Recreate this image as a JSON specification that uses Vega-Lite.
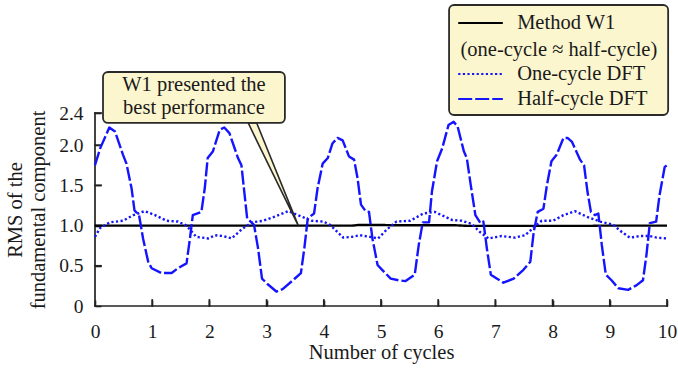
{
  "$schema": "https://vega.github.io/schema/vega-lite/v6.json",
  "width": 572,
  "height": 193,
  "autosize": {"type": "none"},
  "padding": {"left": 95, "top": 113, "right": 11, "bottom": 63},
  "background": "#ffffff",
  "config": {
    "view": {"stroke": null},
    "font": "Liberation Serif"
  },
  "datasets": {
    "series": [
      {"cycle": 0, "rms": 1.0, "method": "Method W1"},
      {"cycle": 1, "rms": 1.0, "method": "Method W1"},
      {"cycle": 2, "rms": 1.0, "method": "Method W1"},
      {"cycle": 3, "rms": 1.0, "method": "Method W1"},
      {"cycle": 4, "rms": 1.0, "method": "Method W1"},
      {"cycle": 4.5, "rms": 1.0, "method": "Method W1"},
      {"cycle": 4.62, "rms": 1.008, "method": "Method W1"},
      {"cycle": 5.0, "rms": 1.008, "method": "Method W1"},
      {"cycle": 5.2, "rms": 1.004, "method": "Method W1"},
      {"cycle": 6.3, "rms": 1.004, "method": "Method W1"},
      {"cycle": 6.5, "rms": 0.997, "method": "Method W1"},
      {"cycle": 8.7, "rms": 0.997, "method": "Method W1"},
      {"cycle": 8.85, "rms": 1.0, "method": "Method W1"},
      {"cycle": 10, "rms": 1.0, "method": "Method W1"},

      {"cycle": 0, "rms": 0.86, "method": "One-cycle DFT"},
      {"cycle": 0.09, "rms": 0.97, "method": "One-cycle DFT"},
      {"cycle": 0.26, "rms": 1.04, "method": "One-cycle DFT"},
      {"cycle": 0.49, "rms": 1.06, "method": "One-cycle DFT"},
      {"cycle": 0.67, "rms": 1.13, "method": "One-cycle DFT"},
      {"cycle": 0.87, "rms": 1.18, "method": "One-cycle DFT"},
      {"cycle": 1.05, "rms": 1.13, "method": "One-cycle DFT"},
      {"cycle": 1.25, "rms": 1.06, "method": "One-cycle DFT"},
      {"cycle": 1.45, "rms": 1.05, "method": "One-cycle DFT"},
      {"cycle": 1.6, "rms": 1.0, "method": "One-cycle DFT"},
      {"cycle": 1.77, "rms": 0.86, "method": "One-cycle DFT"},
      {"cycle": 1.98, "rms": 0.84, "method": "One-cycle DFT"},
      {"cycle": 2.1, "rms": 0.88, "method": "One-cycle DFT"},
      {"cycle": 2.24, "rms": 0.87, "method": "One-cycle DFT"},
      {"cycle": 2.39, "rms": 0.84, "method": "One-cycle DFT"},
      {"cycle": 2.56, "rms": 0.95, "method": "One-cycle DFT"},
      {"cycle": 2.74, "rms": 1.04, "method": "One-cycle DFT"},
      {"cycle": 2.94, "rms": 1.06, "method": "One-cycle DFT"},
      {"cycle": 3.14, "rms": 1.11, "method": "One-cycle DFT"},
      {"cycle": 3.38, "rms": 1.18, "method": "One-cycle DFT"},
      {"cycle": 3.55, "rms": 1.13, "method": "One-cycle DFT"},
      {"cycle": 3.79, "rms": 1.06, "method": "One-cycle DFT"},
      {"cycle": 3.99, "rms": 1.05, "method": "One-cycle DFT"},
      {"cycle": 4.11, "rms": 1.01, "method": "One-cycle DFT"},
      {"cycle": 4.34, "rms": 0.85, "method": "One-cycle DFT"},
      {"cycle": 4.49, "rms": 0.86, "method": "One-cycle DFT"},
      {"cycle": 4.63, "rms": 0.88, "method": "One-cycle DFT"},
      {"cycle": 4.81, "rms": 0.86, "method": "One-cycle DFT"},
      {"cycle": 4.95, "rms": 0.84, "method": "One-cycle DFT"},
      {"cycle": 5.1, "rms": 0.95, "method": "One-cycle DFT"},
      {"cycle": 5.27, "rms": 1.05, "method": "One-cycle DFT"},
      {"cycle": 5.51, "rms": 1.06, "method": "One-cycle DFT"},
      {"cycle": 5.74, "rms": 1.15, "method": "One-cycle DFT"},
      {"cycle": 5.94, "rms": 1.17, "method": "One-cycle DFT"},
      {"cycle": 6.06, "rms": 1.13, "method": "One-cycle DFT"},
      {"cycle": 6.24, "rms": 1.07, "method": "One-cycle DFT"},
      {"cycle": 6.41, "rms": 1.06, "method": "One-cycle DFT"},
      {"cycle": 6.59, "rms": 1.02, "method": "One-cycle DFT"},
      {"cycle": 6.73, "rms": 0.92, "method": "One-cycle DFT"},
      {"cycle": 6.88, "rms": 0.84, "method": "One-cycle DFT"},
      {"cycle": 7.11, "rms": 0.87, "method": "One-cycle DFT"},
      {"cycle": 7.34, "rms": 0.85, "method": "One-cycle DFT"},
      {"cycle": 7.52, "rms": 0.88, "method": "One-cycle DFT"},
      {"cycle": 7.69, "rms": 0.99, "method": "One-cycle DFT"},
      {"cycle": 7.81, "rms": 1.06, "method": "One-cycle DFT"},
      {"cycle": 8.01, "rms": 1.06, "method": "One-cycle DFT"},
      {"cycle": 8.19, "rms": 1.13, "method": "One-cycle DFT"},
      {"cycle": 8.39, "rms": 1.18, "method": "One-cycle DFT"},
      {"cycle": 8.6, "rms": 1.11, "method": "One-cycle DFT"},
      {"cycle": 8.83, "rms": 1.05, "method": "One-cycle DFT"},
      {"cycle": 9.06, "rms": 1.01, "method": "One-cycle DFT"},
      {"cycle": 9.21, "rms": 0.92, "method": "One-cycle DFT"},
      {"cycle": 9.35, "rms": 0.85, "method": "One-cycle DFT"},
      {"cycle": 9.53, "rms": 0.87, "method": "One-cycle DFT"},
      {"cycle": 9.7, "rms": 0.87, "method": "One-cycle DFT"},
      {"cycle": 9.82, "rms": 0.85, "method": "One-cycle DFT"},
      {"cycle": 10, "rms": 0.84, "method": "One-cycle DFT"},

      {"cycle": 0, "rms": 1.75, "method": "Half-cycle DFT"},
      {"cycle": 0.09, "rms": 1.96, "method": "Half-cycle DFT"},
      {"cycle": 0.25, "rms": 2.22, "method": "Half-cycle DFT"},
      {"cycle": 0.35, "rms": 2.17, "method": "Half-cycle DFT"},
      {"cycle": 0.49, "rms": 1.88, "method": "Half-cycle DFT"},
      {"cycle": 0.55, "rms": 1.77, "method": "Half-cycle DFT"},
      {"cycle": 0.64, "rms": 1.46, "method": "Half-cycle DFT"},
      {"cycle": 0.69, "rms": 1.19, "method": "Half-cycle DFT"},
      {"cycle": 0.77, "rms": 1.13, "method": "Half-cycle DFT"},
      {"cycle": 0.84, "rms": 0.84, "method": "Half-cycle DFT"},
      {"cycle": 0.93, "rms": 0.55, "method": "Half-cycle DFT"},
      {"cycle": 0.99, "rms": 0.47, "method": "Half-cycle DFT"},
      {"cycle": 1.16, "rms": 0.41, "method": "Half-cycle DFT"},
      {"cycle": 1.34, "rms": 0.41, "method": "Half-cycle DFT"},
      {"cycle": 1.45, "rms": 0.47, "method": "Half-cycle DFT"},
      {"cycle": 1.6, "rms": 0.53, "method": "Half-cycle DFT"},
      {"cycle": 1.66, "rms": 0.84, "method": "Half-cycle DFT"},
      {"cycle": 1.71, "rms": 1.13, "method": "Half-cycle DFT"},
      {"cycle": 1.86, "rms": 1.17, "method": "Half-cycle DFT"},
      {"cycle": 1.92, "rms": 1.47, "method": "Half-cycle DFT"},
      {"cycle": 1.97, "rms": 1.84, "method": "Half-cycle DFT"},
      {"cycle": 2.06, "rms": 1.92, "method": "Half-cycle DFT"},
      {"cycle": 2.18, "rms": 2.19, "method": "Half-cycle DFT"},
      {"cycle": 2.26, "rms": 2.22, "method": "Half-cycle DFT"},
      {"cycle": 2.35, "rms": 2.15, "method": "Half-cycle DFT"},
      {"cycle": 2.5, "rms": 1.84, "method": "Half-cycle DFT"},
      {"cycle": 2.56, "rms": 1.75, "method": "Half-cycle DFT"},
      {"cycle": 2.61, "rms": 1.42, "method": "Half-cycle DFT"},
      {"cycle": 2.66, "rms": 1.09, "method": "Half-cycle DFT"},
      {"cycle": 2.78, "rms": 1.01, "method": "Half-cycle DFT"},
      {"cycle": 2.85, "rms": 0.72, "method": "Half-cycle DFT"},
      {"cycle": 2.92, "rms": 0.34, "method": "Half-cycle DFT"},
      {"cycle": 3.02, "rms": 0.27, "method": "Half-cycle DFT"},
      {"cycle": 3.17, "rms": 0.18, "method": "Half-cycle DFT"},
      {"cycle": 3.28, "rms": 0.21, "method": "Half-cycle DFT"},
      {"cycle": 3.46, "rms": 0.32, "method": "Half-cycle DFT"},
      {"cycle": 3.6, "rms": 0.41, "method": "Half-cycle DFT"},
      {"cycle": 3.66, "rms": 0.72, "method": "Half-cycle DFT"},
      {"cycle": 3.72, "rms": 1.09, "method": "Half-cycle DFT"},
      {"cycle": 3.83, "rms": 1.15, "method": "Half-cycle DFT"},
      {"cycle": 3.89, "rms": 1.46, "method": "Half-cycle DFT"},
      {"cycle": 3.98, "rms": 1.77, "method": "Half-cycle DFT"},
      {"cycle": 4.07, "rms": 1.84, "method": "Half-cycle DFT"},
      {"cycle": 4.15, "rms": 2.02, "method": "Half-cycle DFT"},
      {"cycle": 4.24, "rms": 2.09, "method": "Half-cycle DFT"},
      {"cycle": 4.33, "rms": 2.06, "method": "Half-cycle DFT"},
      {"cycle": 4.44, "rms": 1.86, "method": "Half-cycle DFT"},
      {"cycle": 4.53, "rms": 1.82, "method": "Half-cycle DFT"},
      {"cycle": 4.59, "rms": 1.59, "method": "Half-cycle DFT"},
      {"cycle": 4.65, "rms": 1.26, "method": "Half-cycle DFT"},
      {"cycle": 4.73, "rms": 1.18, "method": "Half-cycle DFT"},
      {"cycle": 4.79, "rms": 1.17, "method": "Half-cycle DFT"},
      {"cycle": 4.85, "rms": 0.84, "method": "Half-cycle DFT"},
      {"cycle": 4.94, "rms": 0.51, "method": "Half-cycle DFT"},
      {"cycle": 5.02, "rms": 0.45, "method": "Half-cycle DFT"},
      {"cycle": 5.17, "rms": 0.34, "method": "Half-cycle DFT"},
      {"cycle": 5.31, "rms": 0.32, "method": "Half-cycle DFT"},
      {"cycle": 5.43, "rms": 0.31, "method": "Half-cycle DFT"},
      {"cycle": 5.59, "rms": 0.39, "method": "Half-cycle DFT"},
      {"cycle": 5.66, "rms": 0.76, "method": "Half-cycle DFT"},
      {"cycle": 5.73, "rms": 1.04, "method": "Half-cycle DFT"},
      {"cycle": 5.84, "rms": 1.04, "method": "Half-cycle DFT"},
      {"cycle": 5.89, "rms": 1.42, "method": "Half-cycle DFT"},
      {"cycle": 5.98, "rms": 1.8, "method": "Half-cycle DFT"},
      {"cycle": 6.07, "rms": 1.96, "method": "Half-cycle DFT"},
      {"cycle": 6.18, "rms": 2.25, "method": "Half-cycle DFT"},
      {"cycle": 6.27, "rms": 2.29, "method": "Half-cycle DFT"},
      {"cycle": 6.34, "rms": 2.23, "method": "Half-cycle DFT"},
      {"cycle": 6.45, "rms": 1.92, "method": "Half-cycle DFT"},
      {"cycle": 6.5, "rms": 1.84, "method": "Half-cycle DFT"},
      {"cycle": 6.57, "rms": 1.5, "method": "Half-cycle DFT"},
      {"cycle": 6.65, "rms": 1.13, "method": "Half-cycle DFT"},
      {"cycle": 6.74, "rms": 1.03, "method": "Half-cycle DFT"},
      {"cycle": 6.79, "rms": 1.05, "method": "Half-cycle DFT"},
      {"cycle": 6.85, "rms": 0.72, "method": "Half-cycle DFT"},
      {"cycle": 6.92, "rms": 0.39, "method": "Half-cycle DFT"},
      {"cycle": 7.03, "rms": 0.34, "method": "Half-cycle DFT"},
      {"cycle": 7.14, "rms": 0.29, "method": "Half-cycle DFT"},
      {"cycle": 7.32, "rms": 0.34, "method": "Half-cycle DFT"},
      {"cycle": 7.49, "rms": 0.45, "method": "Half-cycle DFT"},
      {"cycle": 7.61, "rms": 0.55, "method": "Half-cycle DFT"},
      {"cycle": 7.67, "rms": 0.92, "method": "Half-cycle DFT"},
      {"cycle": 7.74, "rms": 1.17, "method": "Half-cycle DFT"},
      {"cycle": 7.84, "rms": 1.21, "method": "Half-cycle DFT"},
      {"cycle": 7.9, "rms": 1.5, "method": "Half-cycle DFT"},
      {"cycle": 7.98, "rms": 1.8, "method": "Half-cycle DFT"},
      {"cycle": 8.07, "rms": 1.88, "method": "Half-cycle DFT"},
      {"cycle": 8.19, "rms": 2.09, "method": "Half-cycle DFT"},
      {"cycle": 8.26, "rms": 2.09, "method": "Half-cycle DFT"},
      {"cycle": 8.34, "rms": 2.04, "method": "Half-cycle DFT"},
      {"cycle": 8.48, "rms": 1.82, "method": "Half-cycle DFT"},
      {"cycle": 8.55, "rms": 1.75, "method": "Half-cycle DFT"},
      {"cycle": 8.61, "rms": 1.42, "method": "Half-cycle DFT"},
      {"cycle": 8.67, "rms": 1.17, "method": "Half-cycle DFT"},
      {"cycle": 8.74, "rms": 1.13, "method": "Half-cycle DFT"},
      {"cycle": 8.8, "rms": 1.15, "method": "Half-cycle DFT"},
      {"cycle": 8.86, "rms": 0.76, "method": "Half-cycle DFT"},
      {"cycle": 8.93, "rms": 0.39, "method": "Half-cycle DFT"},
      {"cycle": 9.03, "rms": 0.32, "method": "Half-cycle DFT"},
      {"cycle": 9.15, "rms": 0.22, "method": "Half-cycle DFT"},
      {"cycle": 9.32, "rms": 0.2, "method": "Half-cycle DFT"},
      {"cycle": 9.47, "rms": 0.26, "method": "Half-cycle DFT"},
      {"cycle": 9.58, "rms": 0.32, "method": "Half-cycle DFT"},
      {"cycle": 9.64, "rms": 0.63, "method": "Half-cycle DFT"},
      {"cycle": 9.7, "rms": 1.03, "method": "Half-cycle DFT"},
      {"cycle": 9.81, "rms": 1.05, "method": "Half-cycle DFT"},
      {"cycle": 9.87, "rms": 1.38, "method": "Half-cycle DFT"},
      {"cycle": 9.96, "rms": 1.73, "method": "Half-cycle DFT"},
      {"cycle": 10, "rms": 1.75, "method": "Half-cycle DFT"}
    ],
    "frame": [
      {"part": "x axis line", "cycle": 0, "cycle2": 10, "rms": 0, "rms2": 0},
      {"part": "y axis line", "cycle": 0, "cycle2": 0, "rms": 0, "rms2": 2.4},
      {"part": "x tick", "cycle": 1, "cycle2": 1, "rms": 0, "rms2": 0.075},
      {"part": "x tick", "cycle": 2, "cycle2": 2, "rms": 0, "rms2": 0.075},
      {"part": "x tick", "cycle": 3, "cycle2": 3, "rms": 0, "rms2": 0.075},
      {"part": "x tick", "cycle": 4, "cycle2": 4, "rms": 0, "rms2": 0.075},
      {"part": "x tick", "cycle": 5, "cycle2": 5, "rms": 0, "rms2": 0.075},
      {"part": "x tick", "cycle": 6, "cycle2": 6, "rms": 0, "rms2": 0.075},
      {"part": "x tick", "cycle": 7, "cycle2": 7, "rms": 0, "rms2": 0.075},
      {"part": "x tick", "cycle": 8, "cycle2": 8, "rms": 0, "rms2": 0.075},
      {"part": "x tick", "cycle": 9, "cycle2": 9, "rms": 0, "rms2": 0.075},
      {"part": "x tick", "cycle": 10, "cycle2": 10, "rms": 0, "rms2": 0.075},
      {"part": "y tick", "cycle": 0, "cycle2": 0.105, "rms": 0.5, "rms2": 0.5},
      {"part": "y tick", "cycle": 0, "cycle2": 0.105, "rms": 1.0, "rms2": 1.0},
      {"part": "y tick", "cycle": 0, "cycle2": 0.105, "rms": 1.5, "rms2": 1.5},
      {"part": "y tick", "cycle": 0, "cycle2": 0.105, "rms": 2.0, "rms2": 2.0},
      {"part": "y tick", "cycle": 0, "cycle2": 0.105, "rms": 2.4, "rms2": 2.4}
    ],
    "boxes": [
      {"name": "legend", "cycle": 6.19, "cycle2": 10.02, "rms": 3.743, "rms2": 2.375},
      {"name": "callout", "cycle": 0.14, "cycle2": 3.32, "rms": 2.91, "rms2": 2.276}
    ],
    "pointer": [
      {"cycle": 2.68, "rms": 2.276, "rms2": 2.276},
      {"cycle": 2.827, "rms": 2.276, "rms2": 2.056},
      {"cycle": 3.554, "rms": 1.0, "rms2": 1.0}
    ],
    "keys": [
      {"method": "Method W1", "cycle": 6.35, "cycle2": 7.13, "rms": 3.519},
      {"method": "One-cycle DFT", "cycle": 6.35, "cycle2": 7.13, "rms": 2.885},
      {"method": "Half-cycle DFT", "cycle": 6.35, "cycle2": 7.13, "rms": 2.574}
    ],
    "keyLabels": [
      {"text": "Method W1", "cycle": 7.38, "rms": 3.519},
      {"text": "One-cycle DFT", "cycle": 7.38, "rms": 2.885},
      {"text": "Half-cycle DFT", "cycle": 7.38, "rms": 2.574}
    ],
    "centredLabels": [
      {"text": "(one-cycle ≈ half-cycle)", "cycle": 8.11, "rms": 3.183},
      {"text": "W1 presented the", "cycle": 1.73, "rms": 2.748},
      {"text": "best performance", "cycle": 1.73, "rms": 2.462}
    ]
  },
  "encoding": {
    "x": {
      "field": "cycle", "type": "quantitative",
      "scale": {"domain": [0, 10], "nice": false},
      "axis": {
        "title": "Number of cycles",
        "values": [0, 1, 2, 3, 4, 5, 6, 7, 8, 9, 10],
        "format": "d",
        "grid": false,
        "domain": false,
        "offset": -6,
        "ticks": true,
        "tickColor": "#222222",
        "tickWidth": 1.6,
        "tickSize": 6,
        "labelFont": "Liberation Serif",
        "labelFontSize": 19.5,
        "labelColor": "#1a1a1a",
        "labelFlush": false,
        "labelOverlap": false,
        "labelPadding": 16,
        "titleFont": "Liberation Serif",
        "titleFontSize": 20.5,
        "titleFontWeight": "normal",
        "titleColor": "#1a1a1a",
        "titlePadding": 2
      }
    },
    "y": {
      "field": "rms", "type": "quantitative", "stack": null,
      "scale": {"domain": [0, 2.4], "nice": false, "zero": true},
      "axis": {
        "title": ["RMS of the", "fundamental component"],
        "values": [0, 0.5, 1, 1.5, 2, 2.4],
        "labelExpr": "datum.value == 0 ? '0' : format(datum.value, '.1f')",
        "grid": false,
        "domain": false,
        "offset": -6,
        "ticks": true,
        "tickColor": "#222222",
        "tickWidth": 1.6,
        "tickSize": 6,
        "labelFont": "Liberation Serif",
        "labelFontSize": 19.5,
        "labelColor": "#1a1a1a",
        "labelFlush": false,
        "labelOverlap": false,
        "labelBaseline": "middle",
        "labelPadding": 12,
        "titleFont": "Liberation Serif",
        "titleFontSize": 20.5,
        "titleFontWeight": "normal",
        "titleColor": "#1a1a1a",
        "titlePadding": 10,
        "titleLineHeight": 23
      }
    }
  },
  "layer": [
    {
      "data": {"name": "frame"},
      "mark": {"type": "rule", "color": "#222222", "strokeWidth": 1.7, "strokeCap": "square"},
      "encoding": {
        "x2": {"field": "cycle2"},
        "y2": {"field": "rms2"}
      }
    },
    {
      "data": {"name": "series"},
      "mark": {"type": "line", "strokeWidth": 2.4, "strokeCap": "butt", "strokeJoin": "round"},
      "encoding": {
        "color": {
          "field": "method", "type": "nominal",
          "scale": {"domain": ["Method W1", "One-cycle DFT", "Half-cycle DFT"], "range": ["#000000", "#1414ff", "#1414ff"]},
          "legend": null
        },
        "strokeDash": {
          "field": "method", "type": "nominal",
          "scale": {"domain": ["Method W1", "One-cycle DFT", "Half-cycle DFT"], "range": [[1, 0], [2.2, 2.4], [14, 3]]},
          "legend": null
        }
      }
    },
    {
      "data": {"name": "pointer"},
      "mark": {"type": "area", "orient": "vertical", "fill": "#fcf6cf", "stroke": "#2a2a2a", "strokeWidth": 1.6, "strokeJoin": "miter"},
      "encoding": {
        "y2": {"field": "rms2"}
      }
    },
    {
      "data": {"name": "boxes"},
      "mark": {"type": "rect", "fill": "#fcf6cf", "stroke": "#2a2a2a", "strokeWidth": 1.8, "cornerRadius": 5},
      "encoding": {
        "x2": {"field": "cycle2"},
        "y2": {"field": "rms2"}
      }
    },
    {
      "data": {"name": "keys"},
      "mark": {"type": "rule", "strokeWidth": 2.2, "strokeCap": "butt"},
      "encoding": {
        "x2": {"field": "cycle2"},
        "color": {"field": "method", "type": "nominal", "legend": null},
        "strokeDash": {"field": "method", "type": "nominal", "legend": null}
      }
    },
    {
      "data": {"name": "keyLabels"},
      "mark": {"type": "text", "align": "left", "baseline": "middle", "font": "Liberation Serif", "fontSize": 20.5, "color": "#1a1a1a"},
      "encoding": {
        "text": {"field": "text"}
      }
    },
    {
      "data": {"name": "centredLabels"},
      "mark": {"type": "text", "align": "center", "baseline": "middle", "font": "Liberation Serif", "fontSize": 20.5, "color": "#1a1a1a"},
      "encoding": {
        "text": {"field": "text"}
      }
    }
  ]
}
